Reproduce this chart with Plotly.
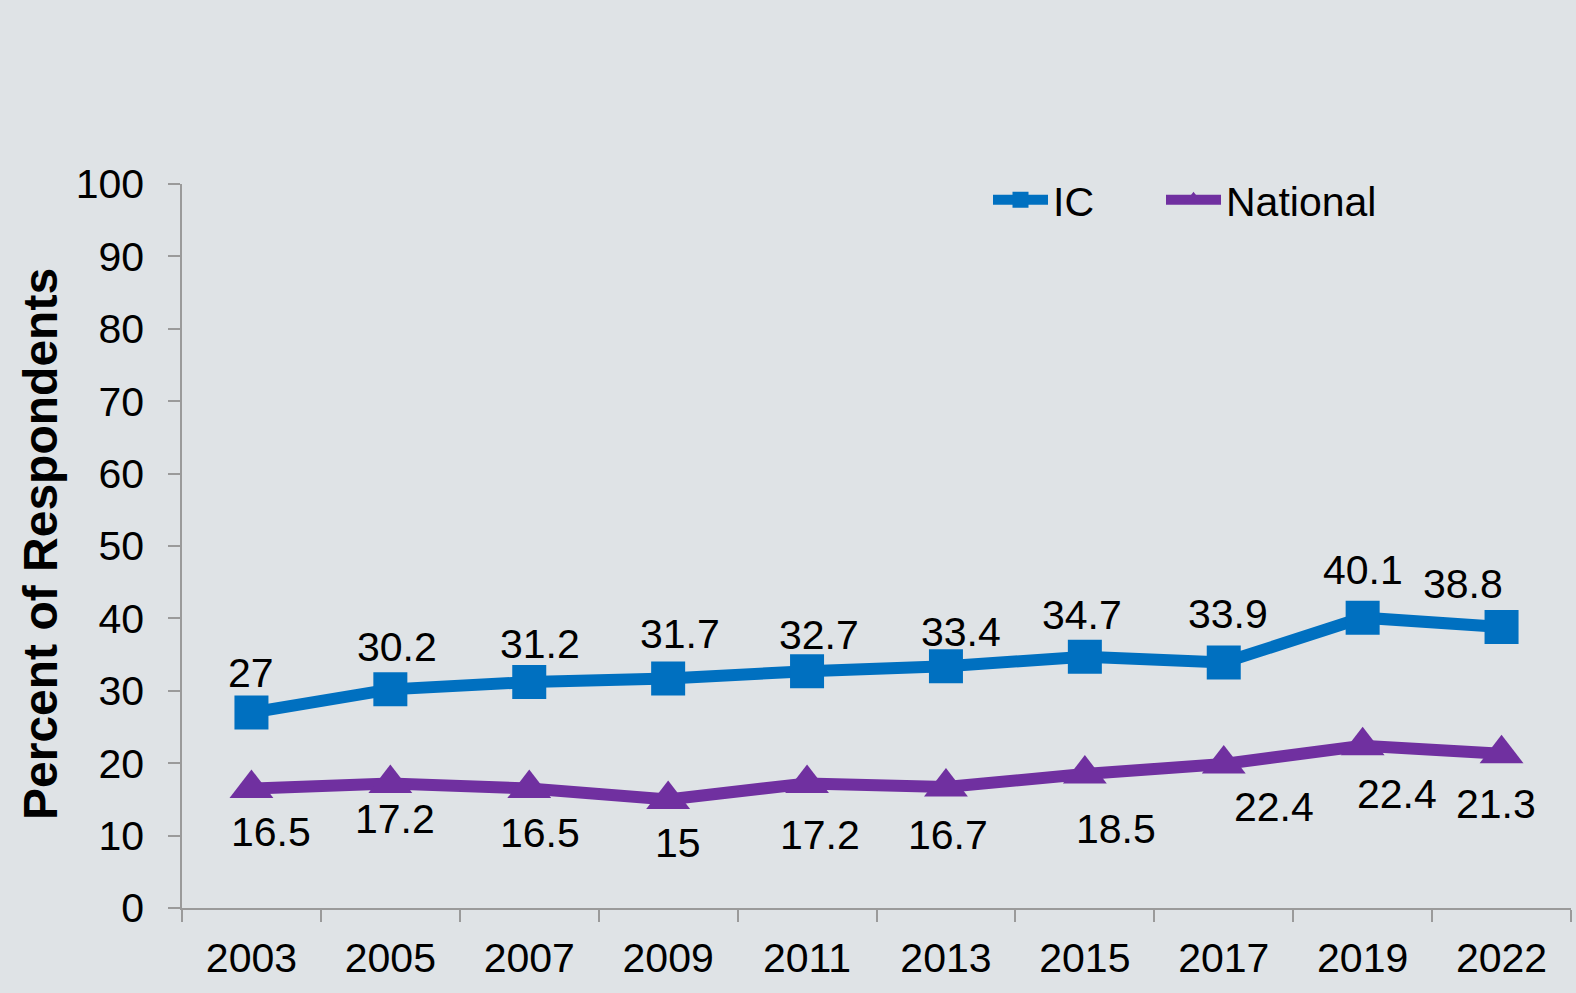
import plotly.graph_objects as go

years = ["2003", "2005", "2007", "2009", "2011", "2013", "2015", "2017", "2019", "2022"]
ic_values = [27, 30.2, 31.2, 31.7, 32.7, 33.4, 34.7, 33.9, 40.1, 38.8]
national_values = [16.5, 17.2, 16.5, 15, 17.2, 16.7, 18.5, 19.9, 22.4, 21.3]
ic_labels = ["27", "30.2", "31.2", "31.7", "32.7", "33.4", "34.7", "33.9", "40.1", "38.8"]
national_labels = ["16.5", "17.2", "16.5", "15", "17.2", "16.7", "18.5", "22.4", "22.4", "21.3"]
y_ticks = [0, 10, 20, 30, 40, 50, 60, 70, 80, 90, 100]

# label offsets (px) relative to each point
ic_shift = [(0, 40), (7, 42), (11, 38), (12, 44), (12, 36), (15, 34), (-3, 42), (4, 49), (0, 48), (-39, 43)]
nat_shift = [(20, -43), (5, -36), (11, -44), (10, -44), (13, -52), (2, -48), (31, -55), (50, -43), (34, -48), (-6, -50)]

IC_COLOR = "#0070C0"
NAT_COLOR = "#7030A0"
BG = "#DFE3E6"
FONT = "Arial, Liberation Sans, sans-serif"

fig = go.Figure()
fig.add_trace(go.Scatter(
    x=years, y=ic_values, name="IC", mode="lines+markers",
    line=dict(color=IC_COLOR, width=12),
    marker=dict(symbol="square", size=34, color=IC_COLOR),
    legend="legend",
))
fig.add_trace(go.Scatter(
    x=years, y=national_values, name="National", mode="lines+markers",
    line=dict(color=NAT_COLOR, width=12),
    marker=dict(symbol="triangle-up", size=38, color=NAT_COLOR),
    legend="legend2",
))

annotations = []
for i, (v, t, (dx, dy)) in enumerate(zip(ic_values, ic_labels, ic_shift)):
    annotations.append(dict(x=i, y=v, xref="x", yref="y", text=t, showarrow=False,
                            xshift=dx, yshift=dy,
                            font=dict(size=41, color="black", family=FONT)))
for i, (v, t, (dx, dy)) in enumerate(zip(national_values, national_labels, nat_shift)):
    annotations.append(dict(x=i, y=v, xref="x", yref="y", text=t, showarrow=False,
                            xshift=dx, yshift=dy,
                            font=dict(size=41, color="black", family=FONT)))
annotations.append(dict(
    xref="paper", yref="paper", x=(40 - 182) / 1389, y=(908 - 544) / 724,
    text="<b>Percent of Respondents</b>", textangle=-90, showarrow=False,
    xanchor="center", yanchor="middle",
    font=dict(size=48, color="black", family=FONT),
))

legend_common = dict(
    orientation="h", yanchor="middle", xanchor="left", bgcolor="rgba(0,0,0,0)",
    font=dict(size=41, color="black", family=FONT), itemwidth=55,
)

fig.update_layout(
    width=1576, height=993,
    margin=dict(l=182, r=5, t=184, b=85),
    paper_bgcolor=BG, plot_bgcolor=BG,
    font=dict(family=FONT, size=41, color="black"),
    showlegend=True,
    legend=dict(x=(988 - 182) / 1389, y=(908 - 200) / 724, **legend_common),
    legend2=dict(x=(1161 - 182) / 1389, y=(908 - 200) / 724, **legend_common),
    annotations=annotations,
    xaxis=dict(
        type="category", range=[-0.5, 9.5], tickson="boundaries",
        ticks="outside", ticklen=12, tickcolor="#9A9A9A", tickwidth=1.5,
        showline=True, linecolor="#9A9A9A", linewidth=1.5,
        showgrid=False, zeroline=False,
        tickfont=dict(size=41, family=FONT, color="black"),
        ticklabelstandoff=13,
    ),
    yaxis=dict(
        range=[0, 100], tickvals=y_ticks,
        ticks="outside", ticklen=12, tickcolor="#9A9A9A", tickwidth=1.5,
        showline=True, linecolor="#9A9A9A", linewidth=1.5,
        showgrid=False, zeroline=False,
        tickfont=dict(size=41, family=FONT, color="black"),
        ticklabelstandoff=16,
    ),
)

fig.write_html(
    "out.html",
    config={"displayModeBar": False},
    post_script="document.body.style.margin='0';document.body.style.background='" + BG + "';",
)
